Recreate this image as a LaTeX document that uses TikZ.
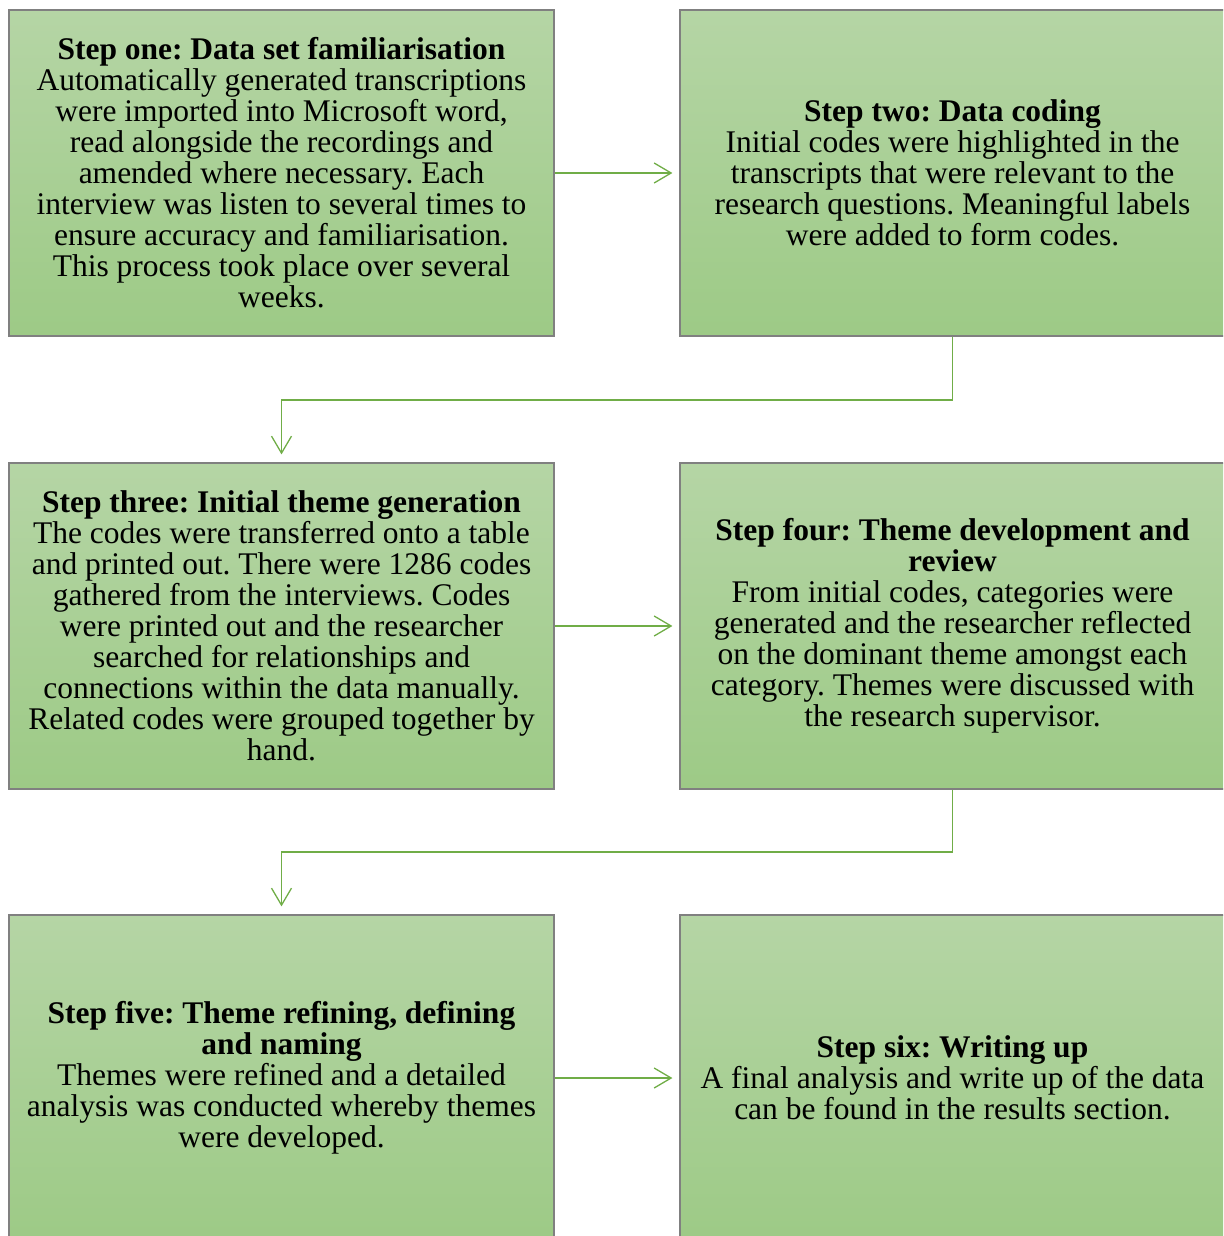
\documentclass[tikz,border=0pt]{standalone}
\usepackage{fontspec}
\setmainfont{Liberation Serif}
\usetikzlibrary{arrows.meta}
\definecolor{boxtop}{RGB}{181,213,165}
\definecolor{boxbottom}{RGB}{157,202,134}
\definecolor{boxline}{RGB}{128,128,128}
\definecolor{flowgreen}{RGB}{112,173,71}
\tikzset{
  stepbox/.style={draw=boxline,line width=1.2pt,top color=boxtop,bottom color=boxbottom,
    minimum width=545pt,minimum height=326pt,inner sep=0pt,align=center,
    font=\fontsize{31.5}{31}\selectfont\frenchspacing},
  flow/.style={draw=flowgreen,line width=1.3pt,-{Straight Barb[length=17pt,width=20pt]}}
}
\begin{document}
\begin{tikzpicture}[x=1pt,y=1pt]
    \useasboundingbox (0,0) rectangle (1223,-1236);
    \clip (0,0) rectangle (1223,-1236);

    \node[stepbox] (step1) at (281.5,-173) {\textbf{Step one: Data set familiarisation}\\
      Automatically generated transcriptions\\
      were imported into Microsoft word,\\
      read alongside the recordings and\\
      amended where necessary. Each\\
      interview was listen to several times to\\
      ensure accuracy and familiarisation.\\
      This process took place over several\\
      weeks.};
    \node[stepbox] (step2) at (952.5,-173) {\textbf{Step two: Data coding}\\
      Initial codes were highlighted in the\\
      transcripts that were relevant to the\\
      research questions. Meaningful labels\\
      were added to form codes.};
    \node[stepbox] (step3) at (281.5,-626) {\textbf{Step three: Initial theme generation}\\
      The codes were transferred onto a table\\
      and printed out. There were 1286 codes\\
      gathered from the interviews. Codes\\
      were printed out and the researcher\\
      searched for relationships and\\
      connections within the data manually.\\
      Related codes were grouped together by\\
      hand.};
    \node[stepbox] (step4) at (952.5,-626) {\textbf{Step four: Theme development and}\\
      \textbf{review}\\
      From initial codes, categories were\\
      generated and the researcher reflected\\
      on the dominant theme amongst each\\
      category. Themes were discussed with\\
      the research supervisor.};
    \node[stepbox] (step5) at (281.5,-1078) {\textbf{Step five: Theme refining, defining}\\
      \textbf{and naming}\\
      Themes were refined and a detailed\\
      analysis was conducted whereby themes\\
      were developed.};
    \node[stepbox] (step6) at (952.5,-1078) {\textbf{Step six: Writing up}\\
      A final analysis and write up of the data\\
      can be found in the results section.};

    % corners of the two elbow connectors
    \coordinate (bend1) at (952.5,-400);
    \coordinate (bend2) at (952.5,-852);

    \draw[flow,shorten >=7pt] (step1.east) -- (step2.west);
    \draw[flow,shorten >=8pt] (step2.south) -- (bend1) -| (step3.north);
    \draw[flow,shorten >=7pt] (step3.east) -- (step4.west);
    \draw[flow,shorten >=8pt] (step4.south) -- (bend2) -| (step5.north);
    \draw[flow,shorten >=7pt] (step5.east) -- (step6.west);
\end{tikzpicture}
\end{document}
